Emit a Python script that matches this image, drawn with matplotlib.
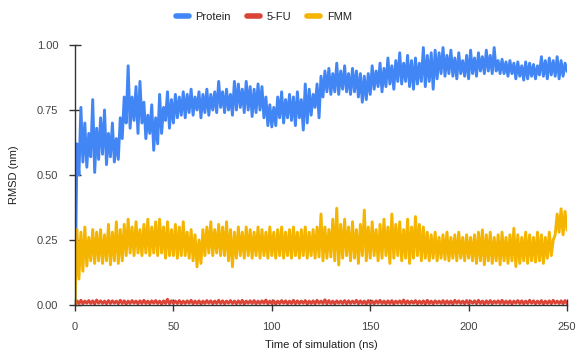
"""RMSD over simulation time for Protein, 5-FU and FMM."""

import matplotlib

matplotlib.use("Agg")
import matplotlib.pyplot as plt
import numpy as np
from matplotlib.lines import Line2D
from matplotlib.ticker import FormatStrFormatter

# time in ns, one sample per ns
time_ns = list(range(0, 251))

# troughs (even ns) and peaks (odd ns)
protein_lo = [
    0.00, 0.50, 0.55, 0.53, 0.57, 0.51, 0.56, 0.58, 0.54, 0.57,
    0.55, 0.56, 0.64, 0.70, 0.68, 0.71, 0.66, 0.70, 0.64, 0.66,
    0.595, 0.62, 0.66, 0.71, 0.68, 0.70, 0.72, 0.73, 0.72, 0.74,
    0.73, 0.75, 0.72, 0.74, 0.73, 0.75, 0.74, 0.76, 0.74, 0.75,
    0.73, 0.75, 0.76, 0.74, 0.75, 0.725, 0.74, 0.75, 0.72, 0.69,
    0.685, 0.69, 0.72, 0.70, 0.72, 0.71, 0.69, 0.72, 0.673, 0.70,
    0.73, 0.76, 0.72, 0.80, 0.82, 0.81, 0.82, 0.81, 0.83, 0.82,
    0.81, 0.82, 0.80, 0.78, 0.79, 0.81, 0.83, 0.84, 0.82, 0.84,
    0.85, 0.83, 0.86, 0.85, 0.86, 0.84, 0.83, 0.85, 0.86, 0.84,
    0.86, 0.83, 0.87, 0.89, 0.88, 0.89, 0.88, 0.87, 0.89, 0.88,
    0.87, 0.89, 0.88, 0.90, 0.89, 0.90, 0.89, 0.90, 0.89, 0.89,
    0.88, 0.89, 0.87, 0.88, 0.865, 0.87, 0.88, 0.87, 0.885, 0.88,
    0.87, 0.885, 0.88, 0.87, 0.88, 0.90,
]
protein_hi = [
    0.62, 0.76, 0.70, 0.66, 0.79, 0.68, 0.72, 0.75, 0.66, 0.70,
    0.64, 0.72, 0.80, 0.92, 0.80, 0.84, 0.86, 0.78, 0.73, 0.77,
    0.72, 0.81, 0.76, 0.82, 0.79, 0.81, 0.80, 0.82, 0.81, 0.83,
    0.80, 0.82, 0.81, 0.83, 0.81, 0.82, 0.86, 0.82, 0.83, 0.81,
    0.86, 0.85, 0.83, 0.86, 0.84, 0.83, 0.85, 0.84, 0.80, 0.77,
    0.76, 0.80, 0.82, 0.79, 0.81, 0.80, 0.82, 0.79, 0.85, 0.83,
    0.81, 0.85, 0.88, 0.90, 0.91, 0.89, 0.93, 0.90, 0.92, 0.89,
    0.91, 0.90, 0.89, 0.88, 0.89, 0.92, 0.90, 0.93, 0.91, 0.95,
    0.92, 0.94, 0.97, 0.93, 0.96, 0.94, 0.95, 0.93, 0.99, 0.96,
    0.97, 0.98, 0.97, 0.99, 0.96, 0.98, 0.95, 0.97, 0.94, 0.96,
    0.98, 0.95, 0.97, 0.955, 0.98, 0.96, 0.99, 0.94, 0.945, 0.935,
    0.94, 0.93, 0.935, 0.92, 0.935, 0.93, 0.925, 0.92, 0.955, 0.94,
    0.95, 0.94, 0.955, 0.94, 0.93,
]

fu_lo = [
    0.000, 0.006, 0.005, 0.007, 0.006, 0.004, 0.007, 0.006, 0.005, 0.006,
    0.007, 0.005, 0.006, 0.004, 0.006, 0.007, 0.005, 0.006, 0.006, 0.005,
    0.007, 0.006, 0.004, 0.006, 0.005, 0.007, 0.006, 0.005, 0.006, 0.007,
    0.005, 0.006, 0.004, 0.006, 0.007, 0.005, 0.006, 0.006, 0.005, 0.007,
    0.006, 0.005, 0.006, 0.004, 0.007, 0.006, 0.005, 0.006, 0.007, 0.005,
    0.006, 0.004, 0.006, 0.007, 0.005, 0.006, 0.005, 0.006, 0.007, 0.004,
    0.006, 0.005, 0.007, 0.006, 0.005, 0.006, 0.004, 0.007, 0.006, 0.005,
    0.006, 0.007, 0.005, 0.006, 0.004, 0.006, 0.005, 0.007, 0.006, 0.005,
    0.006, 0.004, 0.007, 0.006, 0.005, 0.006, 0.007, 0.005, 0.006, 0.004,
    0.006, 0.005, 0.007, 0.006, 0.005, 0.006, 0.004, 0.007, 0.006, 0.005,
    0.006, 0.007, 0.005, 0.006, 0.004, 0.006, 0.005, 0.007, 0.006, 0.005,
    0.006, 0.004, 0.007, 0.006, 0.005, 0.006, 0.007, 0.005, 0.006, 0.004,
    0.006, 0.005, 0.007, 0.006, 0.005, 0.006,
]
fu_hi = [
    0.016, 0.018, 0.015, 0.017, 0.016, 0.019, 0.016, 0.015, 0.017, 0.016,
    0.015, 0.018, 0.016, 0.015, 0.017, 0.015, 0.016, 0.018, 0.015, 0.016,
    0.017, 0.015, 0.016, 0.022, 0.016, 0.015, 0.017, 0.015, 0.016, 0.018,
    0.015, 0.016, 0.015, 0.017, 0.016, 0.015, 0.018, 0.016, 0.015, 0.017,
    0.015, 0.016, 0.018, 0.015, 0.016, 0.017, 0.015, 0.016, 0.019, 0.015,
    0.016, 0.015, 0.017, 0.016, 0.015, 0.018, 0.016, 0.015, 0.017, 0.015,
    0.016, 0.018, 0.015, 0.020, 0.017, 0.015, 0.016, 0.015, 0.017, 0.016,
    0.015, 0.018, 0.016, 0.015, 0.017, 0.015, 0.016, 0.018, 0.015, 0.016,
    0.017, 0.015, 0.016, 0.019, 0.016, 0.015, 0.017, 0.015, 0.016, 0.018,
    0.015, 0.016, 0.015, 0.017, 0.016, 0.015, 0.018, 0.016, 0.015, 0.017,
    0.015, 0.016, 0.018, 0.015, 0.016, 0.017, 0.015, 0.016, 0.018, 0.015,
    0.016, 0.015, 0.017, 0.016, 0.015, 0.018, 0.016, 0.015, 0.017, 0.015,
    0.016, 0.018, 0.015, 0.016, 0.017,
]

fmm_lo = [
    0.00, 0.10, 0.13, 0.15, 0.17, 0.16, 0.17, 0.16, 0.17, 0.155,
    0.17, 0.16, 0.17, 0.19, 0.20, 0.19, 0.20, 0.19, 0.20, 0.19,
    0.20, 0.19, 0.20, 0.18, 0.19, 0.19, 0.18, 0.19, 0.19, 0.18,
    0.17, 0.147, 0.16, 0.19, 0.20, 0.19, 0.20, 0.19, 0.19, 0.17,
    0.147, 0.18, 0.19, 0.18, 0.19, 0.18, 0.19, 0.18, 0.19, 0.18,
    0.19, 0.18, 0.19, 0.18, 0.19, 0.18, 0.19, 0.18, 0.19, 0.18,
    0.19, 0.18, 0.185, 0.17, 0.18, 0.185, 0.17, 0.154, 0.18, 0.19,
    0.17, 0.18, 0.16, 0.19, 0.17, 0.18, 0.19, 0.17, 0.18, 0.19,
    0.16, 0.18, 0.19, 0.17, 0.18, 0.16, 0.18, 0.19, 0.17, 0.18,
    0.17, 0.18, 0.17, 0.18, 0.175, 0.17, 0.18, 0.17, 0.18, 0.17,
    0.18, 0.17, 0.16, 0.17, 0.155, 0.17, 0.16, 0.17, 0.155, 0.17,
    0.16, 0.17, 0.148, 0.16, 0.17, 0.16, 0.17, 0.165, 0.17, 0.16,
    0.18, 0.19, 0.27, 0.28, 0.27, 0.29,
]
fmm_hi = [
    0.29, 0.28, 0.30, 0.26, 0.29, 0.28, 0.29, 0.27, 0.31, 0.28,
    0.32, 0.29, 0.31, 0.33, 0.30, 0.32, 0.29, 0.31, 0.33, 0.30,
    0.32, 0.33, 0.30, 0.32, 0.29, 0.31, 0.30, 0.32, 0.28, 0.29,
    0.27, 0.25, 0.29, 0.30, 0.32, 0.29, 0.31, 0.30, 0.32, 0.29,
    0.28, 0.30, 0.28, 0.30, 0.29, 0.28, 0.30, 0.29, 0.28, 0.30,
    0.28, 0.29, 0.30, 0.28, 0.29, 0.30, 0.28, 0.29, 0.30, 0.28,
    0.29, 0.30, 0.35, 0.30, 0.29, 0.33, 0.372, 0.31, 0.33, 0.30,
    0.32, 0.29, 0.31, 0.365, 0.30, 0.32, 0.29, 0.31, 0.33, 0.30,
    0.35, 0.31, 0.32, 0.29, 0.33, 0.30, 0.34, 0.31, 0.30, 0.28,
    0.27, 0.28, 0.26, 0.27, 0.28, 0.26, 0.27, 0.28, 0.26, 0.27,
    0.26, 0.27, 0.28, 0.289, 0.27, 0.28, 0.26, 0.27, 0.28, 0.26,
    0.27, 0.295, 0.27, 0.26, 0.28, 0.27, 0.26, 0.28, 0.27, 0.26,
    0.28, 0.25, 0.35, 0.37, 0.36,
]

series_names = ["Protein", "5-FU", "FMM"]
series_colors = ["#4285F4", "#DB4437", "#F4B400"]


def interleave(lo, hi):
    out = np.empty(len(lo) + len(hi))
    out[0::2] = lo
    out[1::2] = hi
    return out


plt.rcParams["font.family"] = ["Liberation Sans", "DejaVu Sans"]

fig = plt.figure(figsize=(5.77, 3.63), dpi=100)
ax = fig.add_axes([75 / 577, 1 - 305 / 363, 492 / 577, 260 / 363])

curves = [
    interleave(protein_lo, protein_hi),
    interleave(fu_lo, fu_hi),
    interleave(fmm_lo, fmm_hi),
]
for name, color, values in zip(series_names, series_colors, curves):
    ax.plot(time_ns, values, color=color, linewidth=2.1, label=name,
            solid_joinstyle="round")

ax.set_xlim(0, 250)
ax.set_ylim(0, 1.0)
ax.set_xticks([0, 50, 100, 150, 200, 250])
ax.set_yticks([0, 0.25, 0.5, 0.75, 1.0])
ax.yaxis.set_major_formatter(FormatStrFormatter("%.2f"))

for side in ["top", "right"]:
    ax.spines[side].set_visible(False)
for side in ["left", "bottom"]:
    ax.spines[side].set_color("#333333")
    ax.spines[side].set_linewidth(1.0)
    ax.spines[side].set_zorder(5)

ax.tick_params(axis="both", direction="inout", length=8, width=1.0,
               color="#333333", labelsize=8, labelcolor="#444444")
ax.tick_params(axis="y", pad=8)
ax.tick_params(axis="x", pad=8)

fig.text(0.5 * (75 + 567) / 577, 1 - 345 / 363, "Time of simulation (ns)",
         ha="center", va="center", fontsize=8, color="#222222")
fig.text(14 / 577, 1 - 175 / 363, "RMSD (nm)", rotation=90,
         ha="center", va="center", fontsize=8, color="#222222")

handles = [Line2D([0], [0], color=c, linewidth=4, solid_capstyle="round")
           for c in series_colors]
fig.legend(handles, series_names, loc="center", bbox_to_anchor=(0.457, 1 - 17 / 363),
           ncol=3, frameon=False, fontsize=8, handlelength=1.2, handletextpad=0.6,
           columnspacing=1.4, labelcolor="#222222")

fig.savefig("out.png", dpi=100)
plt.close(fig)
